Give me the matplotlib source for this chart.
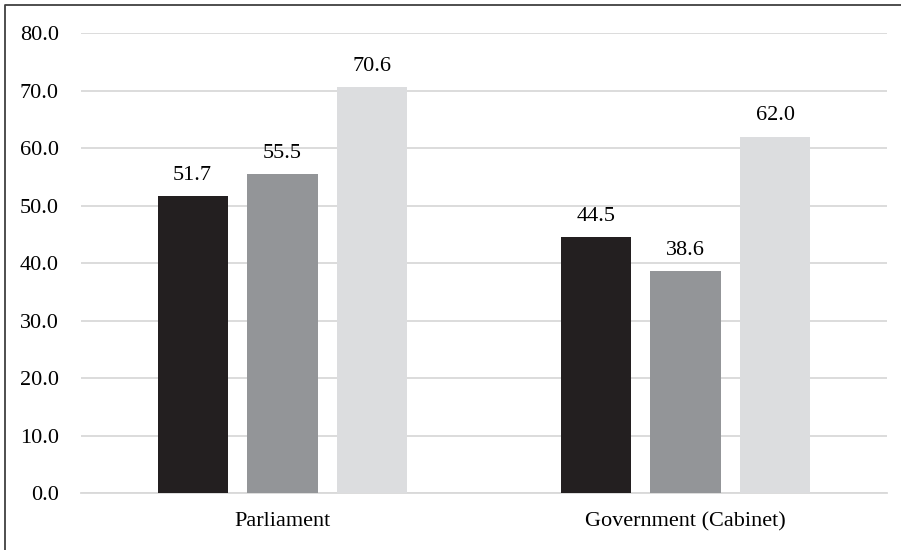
import matplotlib.pyplot as plt
import matplotlib.lines as mlines
import numpy as np

plt.rcParams['font.family'] = ['Liberation Serif', 'DejaVu Serif']
plt.rcParams['font.size'] = 16

categories = ['Parliament', 'Government (Cabinet)']
series_a = [51.7, 44.5]
series_b = [55.5, 38.6]
series_c = [70.6, 62.0]
colors = ['#231f20', '#939598', '#dcdddf']

fig = plt.figure(figsize=(9.01, 5.5), dpi=100)
ax = fig.add_axes([0.0899, 0.1036, 0.8946, 0.8364])

x = np.arange(len(categories))
width = 0.174
step = 0.223
for i, (vals, col) in enumerate(zip([series_a, series_b, series_c], colors)):
    pos = x + (i - 1) * step
    ax.bar(pos, vals, width=width, color=col, zorder=3)
    for p, v in zip(pos, vals):
        ax.text(p, v + 2.8, f'{v:.1f}', ha='center', va='baseline')

ax.set_xlim(-0.5, 1.5)
ax.set_ylim(0, 80)
ax.set_yticks(np.arange(0, 81, 10))
ax.set_yticklabels([f'{t:.1f}' for t in np.arange(0, 81, 10)])
ax.set_xticks(x)
ax.set_xticklabels(categories)
ax.yaxis.grid(True, color='#d9d9d9', linewidth=1.3, zorder=0)
ax.tick_params(length=0)
ax.tick_params(axis='y', pad=16)
ax.tick_params(axis='x', pad=14)
for s in ['top', 'right', 'left']:
    ax.spines[s].set_visible(False)
ax.spines['bottom'].set_color('#d9d9d9')
ax.spines['bottom'].set_linewidth(1.3)

# frame: only top and left edges visible in the reference
fig.lines.append(mlines.Line2D([5 / 901, 5 / 901, 1], [0, 545 / 550, 545 / 550],
                               transform=fig.transFigure, color='#404040',
                               linewidth=1.3))

plt.savefig('out.png', dpi=100)
